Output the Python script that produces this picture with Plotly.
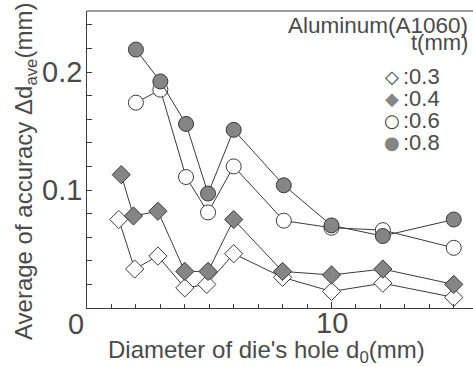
import plotly.graph_objects as go

# ---- data ----
x_t03 = [1.3, 1.95, 2.9, 4.0, 4.9, 6.0, 8.0, 10.0, 12.1, 15.0]
y_t03 = [0.075, 0.033, 0.044, 0.017, 0.020, 0.046, 0.026, 0.014, 0.021, 0.009]
x_t04 = [1.4, 1.9, 2.9, 4.0, 4.95, 6.0, 8.0, 10.0, 12.1, 15.0]
y_t04 = [0.113, 0.078, 0.082, 0.031, 0.031, 0.075, 0.031, 0.028, 0.033, 0.020]
x_circ = [2.0, 3.0, 4.05, 4.95, 6.0, 8.05, 10.0, 12.1, 15.0]
y_t06 = [0.174, 0.185, 0.111, 0.081, 0.120, 0.074, 0.068, 0.066, 0.051]
y_t08 = [0.219, 0.192, 0.156, 0.097, 0.151, 0.104, 0.070, 0.061, 0.075]

x_tick_vals = [10]
x_tick_text = ["10"]
y_tick_vals = [0.1, 0.2]
y_tick_text = ["0.1", "0.2"]

legend_labels = [":0.3", ":0.4", ":0.6", ":0.8"]
legend_glyphs = ["\u25C7", "\u25C6", "\u25CB", "\u25CF"]

# ---- layout geometry ----
W, H = 473, 367
ML, MR, MT, MB = 87, 0, 11, 59
PW, PH = W - ML - MR, H - MT - MB

def px(x):
    return (x - ML) / PW

def py(y):
    return (H - MB - y) / PH

INK = "#3a3a3a"
TXT = "#4a4a4a"
GRAY = "#858585"
FONT = "Liberation Sans, Arial, DejaVu Sans"

fig = go.Figure()

def add(x, y, symbol, fill, size):
    fig.add_trace(go.Scatter(
        x=x, y=y, mode="lines+markers",
        line=dict(color=INK, width=1),
        marker=dict(symbol=symbol, size=size, color=fill,
                    line=dict(color=INK, width=1)),
        showlegend=False, cliponaxis=False))

add(x_t03, y_t03, "diamond", "white", 14)
add(x_t04, y_t04, "diamond", GRAY, 14)
add(x_circ, y_t06, "circle", "white", 15)
add(x_circ, y_t08, "circle", GRAY, 15)

fig.update_layout(
    width=W, height=H,
    margin=dict(l=ML, r=MR, t=MT, b=MB),
    paper_bgcolor="white", plot_bgcolor="white",
    font=dict(family=FONT, color=TXT),
    xaxis=dict(range=[0, PW / 24.45], showgrid=False, zeroline=False,
               showline=True, linecolor=INK, linewidth=1,
               ticks="inside", ticklen=6, tickcolor=INK,
               tickvals=x_tick_vals, showticklabels=False,
               minor=dict(dtick=1, ticks="inside", ticklen=4, tickcolor=INK)),
    yaxis=dict(range=[0, PH / 1180.0], showgrid=False, zeroline=False,
               showline=True, linecolor=INK, linewidth=1,
               ticks="inside", ticklen=5, tickcolor=INK,
               tickvals=y_tick_vals, showticklabels=False,
               minor=dict(dtick=0.02, ticks="inside", ticklen=5, tickcolor=INK)),
)

# top frame line
fig.add_shape(type="line", xref="paper", yref="paper", x0=0, x1=1, y0=1, y1=1,
              line=dict(color=INK, width=1))

ann = []
# tick labels, positioned on the axes' own scales
for v, t in zip(x_tick_vals, x_tick_text):
    ann.append(dict(x=v, xref="x", y=py(323), text=t, font=dict(size=29, color=TXT)))
for v, t in zip(y_tick_vals, y_tick_text):
    ann.append(dict(x=px(84), xanchor="right", y=v, yref="y", text=t,
                    font=dict(size=29, color=TXT)))
# corner "0"
ann.append(dict(x=px(75.5), y=py(323.5), text="0", font=dict(size=29, color=TXT)))
# axis titles
ann.append(dict(x=px(266), y=py(351),
                text="Diameter of die's hole d<sub>0</sub>(mm)",
                font=dict(size=24, color=TXT)))
ann.append(dict(x=px(25), y=py(172), textangle=-90,
                text="Average of accuracy \u0394d<sub>ave</sub>(mm)",
                font=dict(size=24, color=TXT)))
# legend block
ann.append(dict(x=px(470), y=py(25), xanchor="right",
                text="Aluminum(A1060)", font=dict(size=22.5, color=TXT)))
ann.append(dict(x=px(470), y=py(43), xanchor="right",
                text="t(mm)", font=dict(size=22, color=TXT)))
glyph_colors = [INK, GRAY, INK, GRAY]
ys = [76, 98, 120, 142]
for lab, g, gc, yy in zip(legend_labels, legend_glyphs, glyph_colors, ys):
    ann.append(dict(x=px(392), y=py(yy), text=g,
                    font=dict(size=18, color=gc, family="DejaVu Sans")))
    ann.append(dict(x=px(442), y=py(yy), xanchor="right", text=lab,
                    font=dict(size=22, color=TXT)))

for a in ann:
    a.setdefault("xref", "paper")
    a.setdefault("yref", "paper")
    a.setdefault("xanchor", "center")
    a.setdefault("yanchor", "middle")
    a["showarrow"] = False
    fig.add_annotation(**a)

fig.write_html("out.html", config={"displayModeBar": False})

# remove default page margin so the figure sits at the window's top-left corner
with open("out.html", "r", encoding="utf-8") as f:
    html = f.read()
html = html.replace("<head>", "<head><style>html,body{margin:0;padding:0;overflow:hidden}</style>", 1)
with open("out.html", "w", encoding="utf-8") as f:
    f.write(html)
